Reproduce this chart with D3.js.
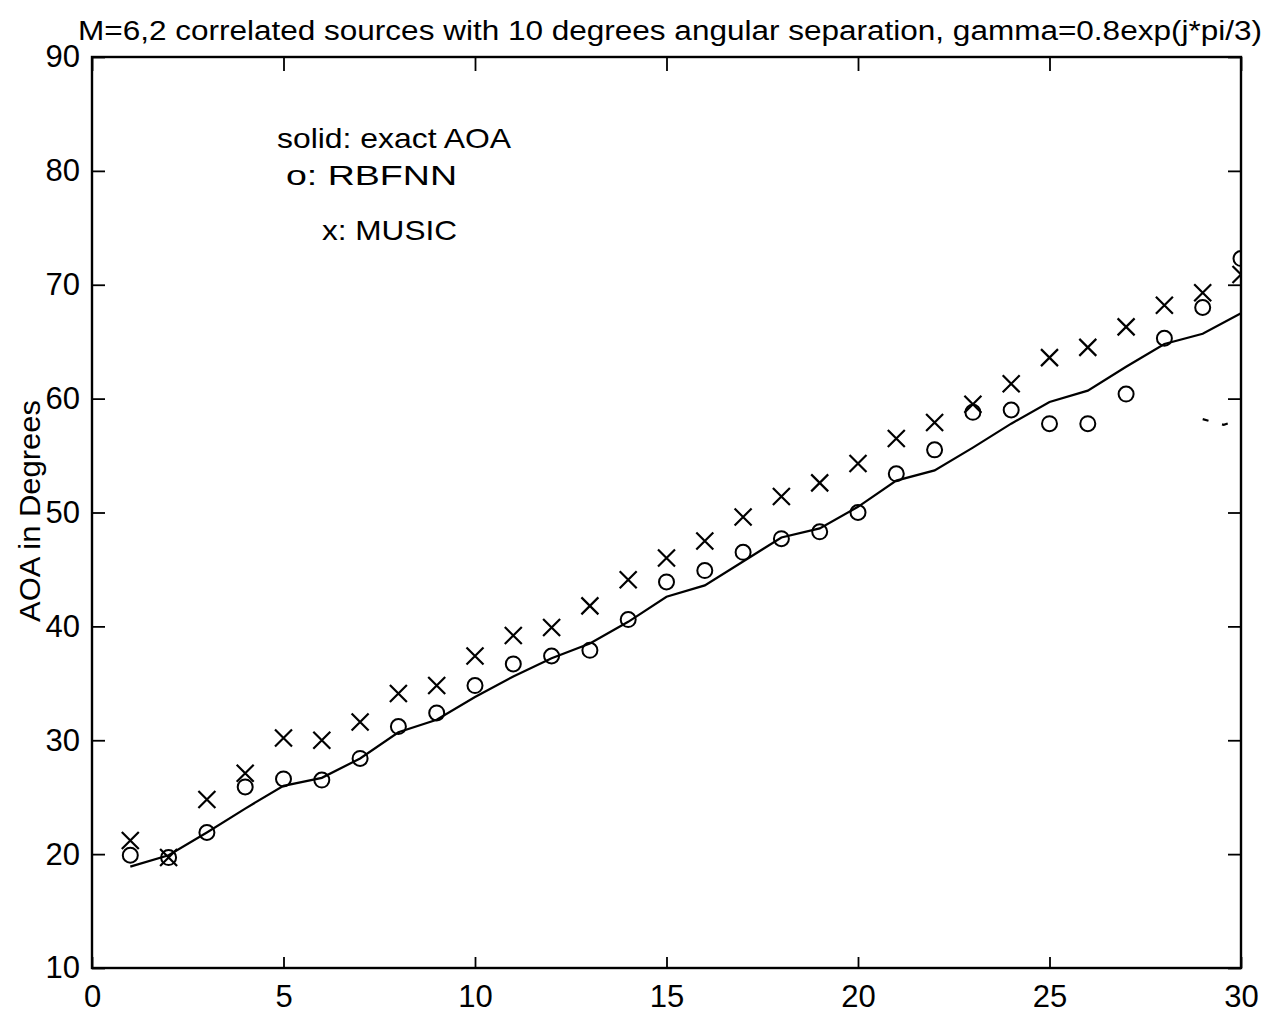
<!DOCTYPE html>
<html><head><meta charset="utf-8">
<script src="https://cdn.jsdelivr.net/npm/d3@7"></script>
<style>body{margin:0;background:#fff}svg{display:block}text{font-family:"Liberation Sans",Arial,sans-serif;fill:#000}</style>
</head><body>
<script>
const titleText = "M=6,2 correlated sources with 10 degrees angular separation, gamma=0.8exp(j*pi/3)";
const yLabel = "AOA in Degrees";
const legendLines = ["solid: exact AOA", "o: RBFNN", "x: MUSIC"];
const xTicks = [0, 5, 10, 15, 20, 25, 30];
const yTicks = [10, 20, 30, 40, 50, 60, 70, 80, 90];
const trial = d3.range(1, 31);
const exactAOA = [18.9,19.9,21.9,24.0,26.0,26.7,28.4,30.7,31.8,33.8,35.6,37.2,38.5,40.4,42.6,43.6,45.7,47.8,48.6,50.5,52.8,53.7,55.7,57.8,59.7,60.7,62.8,64.8,65.7,67.5];
const rbfnn = [19.9,19.7,21.9,25.9,26.6,26.5,28.4,31.2,32.4,34.8,36.7,37.4,37.9,40.6,43.9,44.9,46.5,47.7,48.3,50.0,53.4,55.5,58.8,59.0,57.8,57.8,60.4,65.3,68.0,72.3];
const music = [21.2,19.7,24.8,27.1,30.2,30.0,31.6,34.1,34.8,37.4,39.2,39.9,41.8,44.1,46.0,47.5,49.6,51.4,52.6,54.3,56.5,57.9,59.5,61.3,63.6,64.5,66.3,68.2,69.3,70.9];
const strayX = [29.0, 29.55, 30.0];
const strayY = [58.2, 57.7, 58.2];

const W = 1271, H = 1015;
const m = {l: 92, r: 1241, t: 57, b: 968};
const svg = d3.select("body").append("svg").attr("width", W).attr("height", H);
const x = d3.scaleLinear().domain([0, 30]).range([m.l, m.r]);
const y = d3.scaleLinear().domain([10, 90]).range([m.b, m.t]);

svg.append("defs").append("clipPath").attr("id", "clip")
  .append("rect").attr("x", m.l).attr("y", m.t).attr("width", m.r - m.l).attr("height", m.b - m.t);

// axes with inward ticks
const axB = svg.append("g").attr("transform", `translate(0,${m.b})`)
  .call(d3.axisBottom(x).tickValues(xTicks).tickSize(-11).tickPadding(17).tickFormat(d3.format("d")));
const axT = svg.append("g").attr("transform", `translate(0,${m.t})`)
  .call(d3.axisTop(x).tickValues(xTicks).tickSize(-14).tickFormat(""));
const axL = svg.append("g").attr("transform", `translate(${m.l},0)`)
  .call(d3.axisLeft(y).tickValues(yTicks).tickSize(-13).tickPadding(12).tickFormat(d3.format("d")));
const axR = svg.append("g").attr("transform", `translate(${m.r},0)`)
  .call(d3.axisRight(y).tickValues(yTicks).tickSize(-13).tickFormat(""));
[axB, axT, axL, axR].forEach(g => {
  g.select(".domain").remove();
  g.selectAll("line").attr("stroke", "#000").attr("stroke-width", 1.8);
  g.selectAll("text").style("font-size", "31px").style("font-family", '"Liberation Sans",Arial,sans-serif').attr("fill", "#000");
});
axB.selectAll("text").attr("dy", "0.71em");
// frame
svg.append("rect").attr("x", m.l).attr("y", m.t).attr("width", m.r - m.l).attr("height", m.b - m.t)
  .attr("fill", "none").attr("stroke", "#000").attr("stroke-width", 2.4);

const plot = svg.append("g").attr("clip-path", "url(#clip)");
const line = d3.line().x((d, i) => x(trial[i])).y(d => y(d));
plot.append("path").datum(exactAOA).attr("d", line).attr("fill", "none").attr("stroke", "#000").attr("stroke-width", 2.2);

plot.selectAll("circle").data(rbfnn).join("circle")
  .attr("cx", (d, i) => x(trial[i])).attr("cy", d => y(d)).attr("r", 7.5)
  .attr("fill", "none").attr("stroke", "#000").attr("stroke-width", 2);

const s = 8.5;
plot.selectAll("path.x").data(music).join("path").attr("class", "x")
  .attr("d", (d, i) => { const cx = x(trial[i]), cy = y(d);
    return `M${cx - s},${cy - s}L${cx + s},${cy + s}M${cx - s},${cy + s}L${cx + s},${cy - s}`; })
  .attr("stroke", "#000").attr("stroke-width", 2.2).attr("fill", "none");

plot.append("path").datum(strayY).attr("d", d3.line().x((d, i) => x(strayX[i])).y(d => y(d)))
  .attr("fill", "none").attr("stroke", "#000").attr("stroke-width", 2.2).attr("stroke-dasharray", "6,14");

// title
svg.append("text").attr("x", 78).attr("y", 40).style("font-size", "27px")
  .attr("textLength", 1184).attr("lengthAdjust", "spacingAndGlyphs").text(titleText);

// y label
svg.append("text").attr("transform", `translate(40,511) rotate(-90)`).attr("text-anchor", "middle")
  .style("font-size", "30px").attr("textLength", 222).attr("lengthAdjust", "spacingAndGlyphs").text(yLabel);

// legend
const legPos = [[277, 148, 234], [286, 185, 171], [322, 240, 135]];
legendLines.forEach((t, i) => {
  svg.append("text").attr("x", legPos[i][0]).attr("y", legPos[i][1]).style("font-size", "28px")
    .attr("textLength", legPos[i][2]).attr("lengthAdjust", "spacingAndGlyphs").text(t);
});
</script>
</body></html>
